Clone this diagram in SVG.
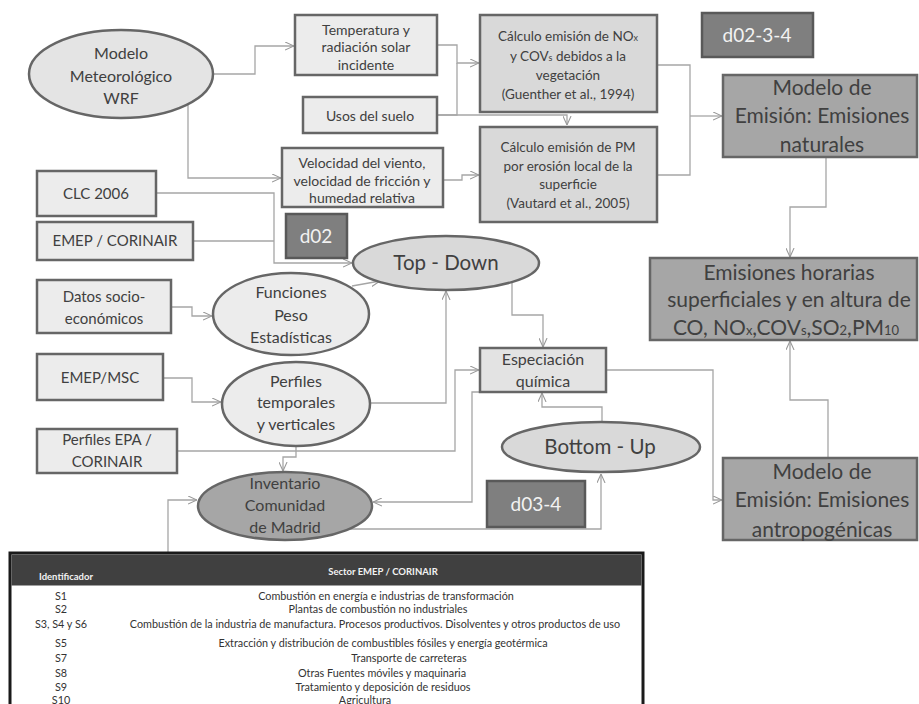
<svg xmlns="http://www.w3.org/2000/svg" width="919" height="704" viewBox="0 0 919 704">
<style>
text{font-family:Lato,"Liberation Sans",sans-serif;fill:#404040;text-anchor:middle}
.lt{fill:#ececec;stroke:#666;stroke-width:2.5}
.md{fill:#d9d9d9;stroke:#666;stroke-width:2.5}
.dk{fill:#a6a6a6;stroke:#666;stroke-width:2.5}
.tag{fill:#7f7f7f;stroke:#595959;stroke-width:2.5}
.tagt{fill:#f2f2f2;font-size:19px}
.c{fill:none;stroke:#a6a6a6;stroke-width:1.3}
.ca{fill:none;stroke:#a6a6a6;stroke-width:1.3;marker-end:url(#a)}
.f13{font-size:14px}.f12{font-size:13.5px}.f15{font-size:15px}.f16{font-size:16px}.f20{font-size:20.5px}.f21{font-size:21px}
.tb{font-size:10.8px;fill:#333}
.th{font-size:9.5px;font-weight:bold;fill:#f2f2f2}
</style>
<defs>
<marker id="a" viewBox="0 0 10 10" refX="10" refY="5" markerWidth="9" markerHeight="9" markerUnits="userSpaceOnUse" orient="auto">
<path d="M0,0.5 L10,5 L0,9.5" fill="none" stroke="#999" stroke-width="1.2"/>
</marker>
</defs>

<g id="connectors">
<path class="ca" d="M213,74 H255 V46 H294"/>
<path class="ca" d="M188,104 V178 H281"/>
<path class="ca" d="M437,45 H457 V63 H479"/>
<path class="c" d="M437,115 H457 V63"/>
<path class="ca" d="M437,115 H567 V125"/>
<path class="ca" d="M443,180 H462 V175 H479"/>
<path class="c" d="M657,65 H690 V175 H657"/>
<path class="ca" d="M690,116 H722"/>
<path class="ca" d="M826,157 V207 H790 V257"/>
<path class="ca" d="M828,458 V400 H790 V341"/>
<path class="ca" d="M606,370 H713 V500 H722"/>
<path class="ca" d="M512,282 V315 H543 V347"/>
<path class="ca" d="M602,422 V407 H542 V393"/>
<path class="ca" d="M370,403 H446 V291"/>
<path class="ca" d="M352,286 L380,281"/>
<path class="ca" d="M156,193 H274 V263 H352"/>
<path class="c" d="M193,241 H274"/>
<path class="ca" d="M171,307 H192 V316 H212"/>
<path class="ca" d="M163,378 H192 V402 H221"/>
<path class="ca" d="M177,451 H455 V370 H479"/>
<path class="ca" d="M296,446 V457 H283 V471"/>
<path class="ca" d="M480,392 H472 V502 H373"/>
<path class="ca" d="M349,529 H601 V474"/>
<path class="ca" d="M138,554 H168 V500 H197"/>
</g>

<g id="wrf"><ellipse class="lt" cx="121" cy="74" rx="92" ry="44" style="fill:#e4e4e4"/>
<text class="f16" x="121" y="59">Modelo</text><text class="f16" x="121" y="82">Meteorológico</text><text class="f16" x="121" y="104">WRF</text></g>

<g id="temperatura"><rect class="lt" x="295" y="15" width="142" height="60"/>
<text class="f13" x="366" y="35">Temperatura y</text><text class="f13" x="366" y="52">radiación solar</text><text class="f13" x="366" y="70">incidente</text></g>

<g id="usos"><rect class="lt" x="303" y="97" width="134" height="36"/>
<text class="f13" x="370" y="121">Usos del suelo</text></g>

<g id="velocidad"><rect class="lt" x="282" y="148" width="161" height="59"/>
<text class="f13" x="362" y="168">Velocidad del viento,</text><text class="f13" x="362" y="186">velocidad de fricción y</text><text class="f13" x="362" y="203">humedad relativa</text></g>

<g id="calculo-nox"><rect class="md" x="480" y="15" width="177" height="97"/>
<text class="f12" x="568" y="41">Cálculo emisión de NO<tspan font-size="9">x</tspan></text>
<text class="f12" x="568" y="61">y COV<tspan font-size="9">s</tspan> debidos a la</text>
<text class="f12" x="568" y="80">vegetación</text>
<text class="f12" x="568" y="99">(Guenther et al., 1994)</text></g>

<g id="calculo-pm"><rect class="md" x="480" y="127" width="177" height="95"/>
<text class="f12" x="568" y="152">Cálculo emisión de PM</text>
<text class="f12" x="568" y="171">por erosión local de la</text>
<text class="f12" x="568" y="189">superficie</text>
<text class="f12" x="568" y="208">(Vautard et al., 2005)</text></g>

<g id="d02-3-4"><rect class="tag" x="702" y="13" width="111" height="44"/>
<text class="tagt" x="757" y="42">d02-3-4</text></g>

<g id="natural"><rect class="dk" x="723" y="75" width="194" height="82"/>
<text class="f21" x="822" y="95">Modelo de</text><text class="f21" x="822" y="123">Emisión: Emisiones</text><text class="f21" x="822" y="152">naturales</text></g>

<g id="horarias"><rect class="dk" x="650" y="258" width="267" height="82"/>
<text class="f21" x="789" y="280">Emisiones horarias</text>
<text class="f21" x="789" y="307">superficiales y en altura de</text>
<text class="f21" x="786" y="335">CO, NO<tspan font-size="13">x</tspan>,COV<tspan font-size="13">s</tspan>,SO<tspan font-size="13">2</tspan>,PM<tspan font-size="13">10</tspan></text></g>

<g id="antropogenicas"><rect class="dk" x="723" y="458" width="194" height="82"/>
<text class="f21" x="822" y="479">Modelo de</text><text class="f21" x="822" y="507">Emisión: Emisiones</text><text class="f21" x="822" y="537">antropogénicas</text></g>

<g id="clc"><rect class="lt" x="37" y="171" width="119" height="45"/>
<text class="f15" x="96" y="199">CLC 2006</text></g>

<g id="emep-corinair"><rect class="lt" x="37" y="222" width="156" height="38"/>
<text class="f15" x="115" y="246">EMEP / CORINAIR</text></g>

<g id="datos"><rect class="lt" x="37" y="280" width="134" height="53"/>
<text class="f15" x="104" y="302">Datos socio-</text><text class="f15" x="104" y="324">económicos</text></g>

<g id="emep-msc"><rect class="lt" x="37" y="354" width="126" height="46"/>
<text class="f15" x="100" y="383">EMEP/MSC</text></g>

<g id="perfiles-epa"><rect class="lt" x="37" y="429" width="140" height="44"/>
<text class="f15" x="107" y="445">Perfiles EPA /</text><text class="f15" x="107" y="467">CORINAIR</text></g>

<g id="d02"><rect class="tag" x="286" y="214" width="61" height="44"/>
<text class="tagt" x="316" y="243">d02</text></g>

<g id="top-down"><ellipse class="md" cx="446" cy="263" rx="93" ry="27"/>
<text class="f20" x="446" y="270">Top - Down</text></g>

<g id="funciones"><ellipse class="lt" cx="291" cy="314" rx="78" ry="41"/>
<text class="f16" x="291" y="298">Funciones</text><text class="f16" x="291" y="321">Peso</text><text class="f16" x="291" y="343">Estadísticas</text></g>

<g id="perfiles-temporales"><ellipse class="lt" cx="296" cy="404" rx="74" ry="42"/>
<text class="f16" x="296" y="387">Perfiles</text><text class="f16" x="296" y="408">temporales</text><text class="f16" x="296" y="430">y verticales</text></g>

<g id="especiacion"><rect class="lt" x="480" y="348" width="126" height="44" style="fill:#e3e3e3"/>
<text class="f16" x="543" y="365">Especiación</text><text class="f16" x="543" y="387">química</text></g>

<g id="bottom-up"><ellipse class="md" cx="601" cy="447" rx="99" ry="25"/>
<text class="f20" x="600" y="454">Bottom - Up</text></g>

<g id="inventario"><ellipse class="dk" cx="285" cy="506" rx="87" ry="34"/>
<text class="f16" x="285" y="489">Inventario</text><text class="f16" x="285" y="511">Comunidad</text><text class="f16" x="285" y="533">de Madrid</text></g>

<g id="d03-4"><rect class="tag" x="487" y="481" width="98" height="46"/>
<text class="tagt" x="536" y="511">d03-4</text></g>

<g id="tabla">
<rect x="10" y="553" width="633" height="170" fill="#fff" stroke="#1a1a1a" stroke-width="3"/>
<rect x="11.5" y="554.5" width="630" height="31" fill="#404040"/>
<text class="th" x="383" y="575">Sector EMEP / CORINAIR</text>
<text class="th" x="66" y="580">Identificador</text>
<text class="tb" x="61" y="599.5">S1</text><text class="tb" x="386" y="599.5">Combustión en energía e industrias de transformación</text>
<text class="tb" x="61" y="613">S2</text><text class="tb" x="378" y="613">Plantas de combustión no industriales</text>
<text class="tb" x="61" y="628">S3, S4 y S6</text><text class="tb" x="375" y="628">Combustión de la industria de manufactura. Procesos productivos.  Disolventes y otros productos de uso</text>
<text class="tb" x="61" y="647">S5</text><text class="tb" x="383" y="647">Extracción y distribución de combustibles fósiles y energía geotérmica</text>
<text class="tb" x="61" y="662">S7</text><text class="tb" x="409" y="662">Transporte de carreteras</text>
<text class="tb" x="61" y="677">S8</text><text class="tb" x="382" y="677">Otras Fuentes móviles y maquinaria</text>
<text class="tb" x="61" y="690.5">S9</text><text class="tb" x="383" y="690.5">Tratamiento y deposición de residuos</text>
<text class="tb" x="61" y="704">S10</text><text class="tb" x="365" y="704">Agricultura</text>
</g>
</svg>
